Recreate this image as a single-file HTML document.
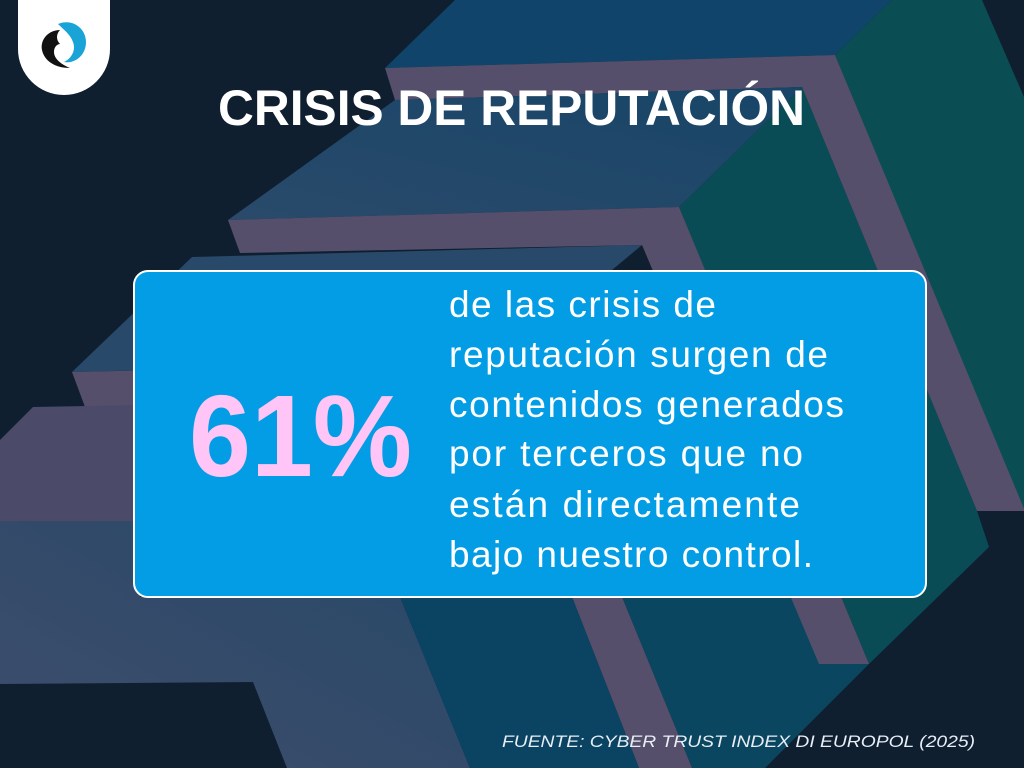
<!DOCTYPE html>
<html><head><meta charset="utf-8"><style>
html,body{margin:0;padding:0;background:#0f1f30;}
svg{display:block;}
</style></head><body>
<svg width="1024" height="768" viewBox="0 0 1024 768" xmlns="http://www.w3.org/2000/svg">
<defs>
<linearGradient id="lf" x1="0" y1="1" x2="1" y2="0">
<stop offset="0" stop-color="#3f4d6c"/><stop offset="1" stop-color="#274868"/>
</linearGradient>
<linearGradient id="c2" x1="0" y1="1" x2="1" y2="0">
<stop offset="0" stop-color="#2a4a6a"/><stop offset="1" stop-color="#174568"/>
</linearGradient>
</defs>
<rect width="1024" height="768" fill="#0f1f30"/>
<polygon points="455,0 892,0 835,55 385,68" fill="#10446a"/>
<polygon points="892,0 982,0 1024,97 1024,511 835,55" fill="#0a4d52"/>
<polygon points="802,87 977,511 989,547 869,664 679,207" fill="#0a4c55"/>
<polygon points="385,68 835,55 1025,511 977,511 802,87 395,100" fill="#554f6c"/>
<polygon points="395,100 802,87 679,207 228,220" fill="url(#c2)"/>
<polygon points="192,257 642,245 612,270 560,360 72,372" fill="#28496a"/>
<polygon points="622,597 800,597 819,664 869,664 765,768 692,768" fill="#0a4660"/>
<polygon points="228,220 679,207 869,664 819,664 642,245 240,253" fill="#554f6c"/>
<polygon points="72,372 600,360 600,395 85,407" fill="#554f6c"/>
<polygon points="572,597 622,597 692,768 639,768" fill="#554f6c"/>
<polygon points="33,407 140,405 140,521 0,521 0,440" fill="#4b4a68"/>
<polygon points="0,521 140,521 140,597 400,597 470,768 287,768 253,682 0,684" fill="url(#lf)"/>
<polygon points="400,597 572,597 639,768 470,768" fill="#0a4462"/>

<path d="M18,0 H110 V49 A46,46 0 0 1 18,49 Z" fill="#ffffff"/>
<path d="M58,24 C72,18 86,28 86,42 C86,56 74,64 64,62 C72,58 76,50 73,42 C70,34 64,30 58,24 Z" fill="#1aa3d6"/>
<path d="M60,30 C48,30 40,40 42,50 C44,60 54,68 70,68 C60,64 54,58 54,52 C54,46 58,44 60,44 C56,40 56,34 60,30 Z" fill="#111111"/>

<text x="218" y="125" font-family="Liberation Sans, sans-serif" font-weight="bold" font-size="50" fill="#ffffff" textLength="587" lengthAdjust="spacingAndGlyphs">CRISIS DE REPUTACIÓN</text>

<rect x="134" y="271" width="792" height="326" rx="14" ry="14" fill="#039de6" stroke="#ffffff" stroke-width="2"/>
<text x="189" y="476" font-family="Liberation Sans, sans-serif" font-weight="bold" font-size="116" fill="#ffc5f7" textLength="223" lengthAdjust="spacingAndGlyphs">61%</text>
<g font-family="Liberation Sans, sans-serif" font-size="37" fill="#ffffff">
<text x="449" y="317" textLength="267" lengthAdjust="spacing">de las crisis de</text>
<text x="449" y="367" textLength="379" lengthAdjust="spacing">reputación surgen de</text>
<text x="449" y="417" textLength="395" lengthAdjust="spacing">contenidos generados</text>
<text x="449" y="466" textLength="354" lengthAdjust="spacing">por terceros que no</text>
<text x="449" y="517" textLength="351" lengthAdjust="spacing">están directamente</text>
<text x="449" y="567" textLength="364" lengthAdjust="spacing">bajo nuestro control.</text>
</g>
<text x="502" y="747" font-family="Liberation Sans, sans-serif" font-style="italic" font-size="17" fill="#e8eef5" textLength="473" lengthAdjust="spacingAndGlyphs">FUENTE: CYBER TRUST INDEX DI EUROPOL (2025)</text>
</svg>
</body></html>
